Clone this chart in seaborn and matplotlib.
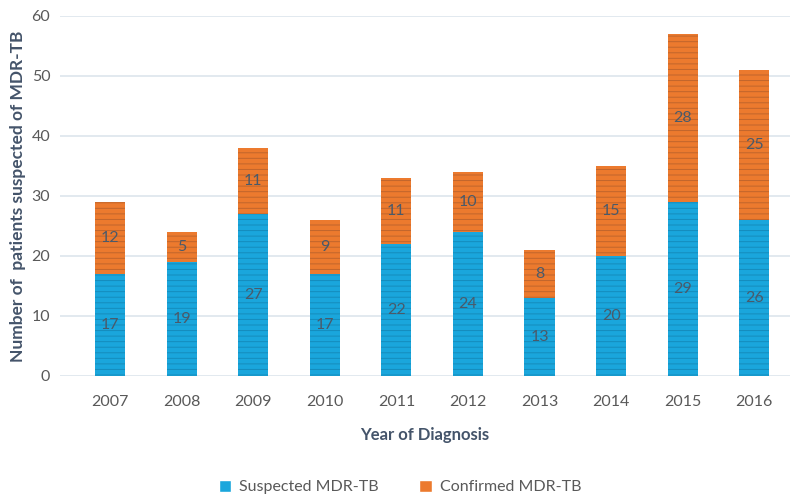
import pandas as pd
import matplotlib.pyplot as plt
import seaborn as sns
from matplotlib.patches import Patch

# Patients suspected / confirmed MDR-TB per year of diagnosis
years = ['2007', '2008', '2009', '2010', '2011', '2012', '2013', '2014', '2015', '2016']
suspected = [17, 19, 27, 17, 22, 24, 13, 20, 29, 26]
confirmed = [12, 5, 11, 9, 11, 10, 8, 15, 28, 25]

df = pd.DataFrame({'Year': years, 'Suspected': suspected, 'Confirmed': confirmed})
df['Total'] = df['Suspected'] + df['Confirmed']

sns.set_style('white')
plt.rcParams['font.family'] = ['Lato', 'DejaVu Sans']
plt.rcParams['hatch.linewidth'] = 0.7

blue = '#1aa6dc'
orange = '#ec7a2e'
text_col = '#44546a'

fig = plt.figure(figsize=(8, 5.03), dpi=100)
ax = fig.add_axes([0.075, 0.2525, 0.9125, 0.716])

# stacked: total (orange) behind, suspected (blue) in front
sns.barplot(data=df, x='Year', y='Total', color=orange, width=0.42, ax=ax,
            saturation=1, edgecolor='#c0652c', linewidth=0, zorder=2)
sns.barplot(data=df, x='Year', y='Suspected', color=blue, width=0.42, ax=ax,
            saturation=1, edgecolor='#158cbc', linewidth=0, zorder=3)

for cont in ax.containers:
    for p in cont:
        p.set_hatch('---')

# segment labels
for i, (s, c) in enumerate(zip(suspected, confirmed)):
    ax.text(i, s / 2, str(s), ha='center', va='center', fontsize=11.5, color='#4a5a6a', zorder=5)
    ax.text(i, s + c / 2, str(c), ha='center', va='center', fontsize=11.5, color='#4a5a6a', zorder=5)

ax.set_ylim(0, 60)
ax.set_xlim(-0.7, 9.5)
ax.set_yticks(range(0, 61, 10))
ax.yaxis.grid(True, color='#dde5ec', linewidth=1.2, zorder=0)
ax.set_axisbelow(True)
for sp in ax.spines.values():
    sp.set_visible(False)
ax.tick_params(axis='both', length=0, labelsize=11.5, labelcolor='#595959')
ax.tick_params(axis='x', pad=14)
ax.tick_params(axis='y', pad=7)

ax.set_xlabel('Year of Diagnosis', fontsize=12, fontweight='bold', color=text_col, labelpad=13)
ax.set_ylabel('Number of  patients suspected of MDR-TB', fontsize=12.5, fontweight='bold',
              color=text_col, labelpad=4)

handles = [Patch(facecolor=blue, label='Suspected MDR-TB'),
           Patch(facecolor=orange, label='Confirmed MDR-TB')]
leg = fig.legend(handles=handles, loc='center', bbox_to_anchor=(0.5, 0.032), ncol=2,
                 frameon=False, fontsize=11.5, handlelength=0.8, handleheight=0.8,
                 columnspacing=2.5, handletextpad=0.5)
for t in leg.get_texts():
    t.set_color('#595959')

fig.savefig('out.png', dpi=100)
